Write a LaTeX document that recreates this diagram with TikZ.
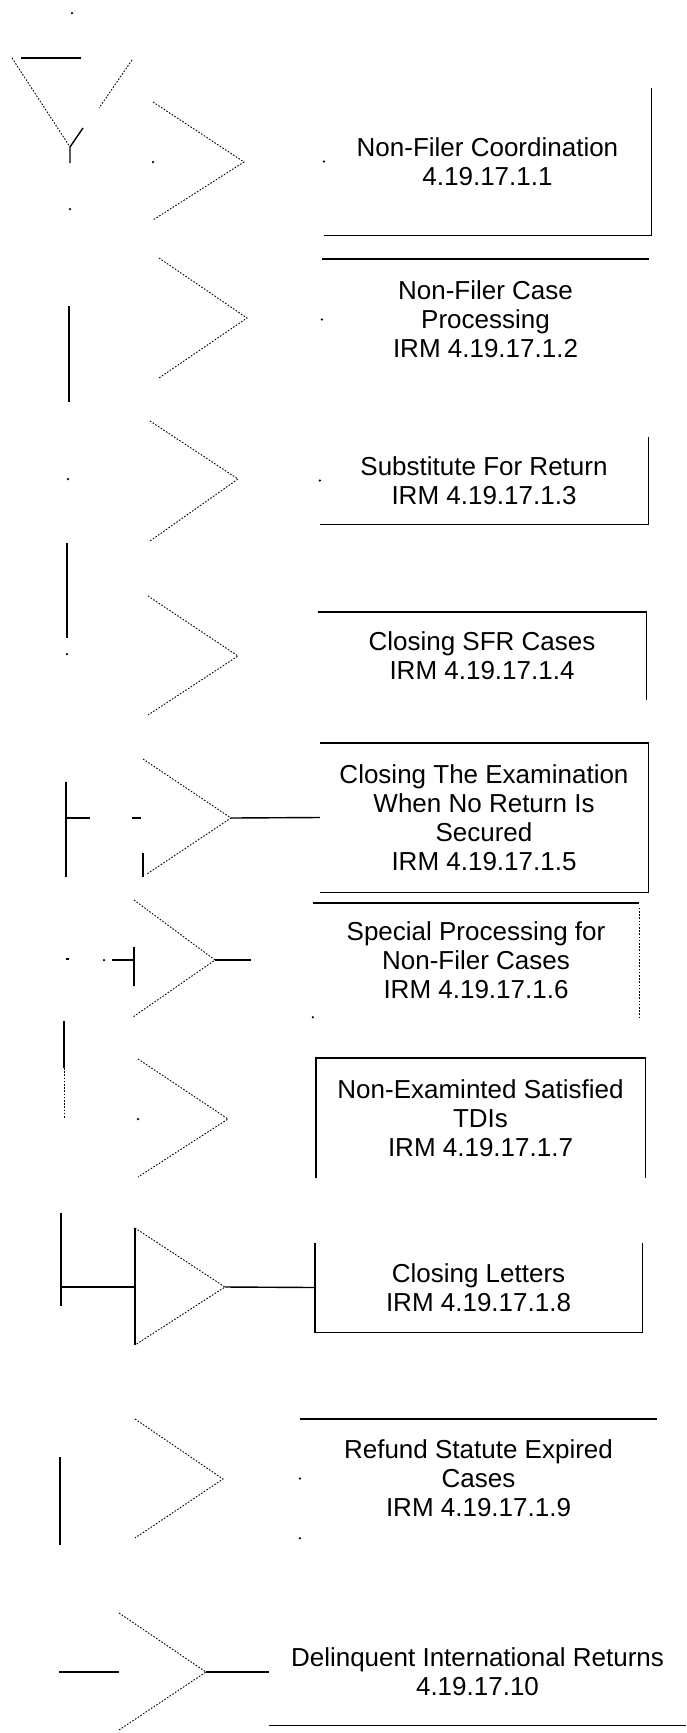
\documentclass[tikz,border=0pt]{standalone}
\usepackage{fontspec}
\setmainfont{Liberation Sans}
\usetikzlibrary{calc, positioning}

\tikzset{
  item/.style={inner sep=0pt, align=center, font=\fontsize{26}{29}\selectfont},
  rule/.style={line width=1.4pt},
  chev/.style={line width=0.9pt, dash pattern=on 1.6pt off 1.6pt},
  speck/.style={fill, circle, inner sep=0pt, minimum size=2.5pt}
}

\begin{document}
\begin{tikzpicture}[x=1pt, y=-1pt]
  \useasboundingbox (0,0) rectangle (686,1733);

  % top marker
  \node[speck] (topdot) at (72,13) {};
  \draw[rule] (21,58) -- (81,58);
  \draw[chev] (12,58) -- (70,147);
  \draw[chev] (132,60) -- (99,108);
  \draw[rule] (83,128) -- (70,147) -- (70,163);
  \node[speck] (trunkdot) at (70,209) {};

  % text boxes
  \node[item, minimum width=327pt, minimum height=147pt] (coord) at (487.5,161.5)
    {Non-Filer Coordination\\4.19.17.1.1};
  \node[item, minimum width=327pt, minimum height=121pt] (casep) at (485.5,319.5)
    {Non-Filer Case\\Processing\\IRM 4.19.17.1.2};
  \node[item, minimum width=328pt, minimum height=87pt] (sfr) at (484,480.5)
    {Substitute For Return\\IRM 4.19.17.1.3};
  \node[item, minimum width=328pt, minimum height=88pt] (closesfr) at (482,656)
    {Closing SFR Cases\\IRM 4.19.17.1.4};
  \node[item, minimum width=328pt, minimum height=149pt] (closeexam) at (484,817.5)
    {Closing The Examination\\When No Return Is\\Secured\\IRM 4.19.17.1.5};
  \node[item, minimum width=326pt, minimum height=114pt] (special) at (476,960)
    {Special Processing for\\Non-Filer Cases\\IRM 4.19.17.1.6};
  \node[item, minimum width=329pt, minimum height=120pt] (tdis) at (480.5,1118)
    {Non-Examinted Satisfied\\TDIs\\IRM 4.19.17.1.7};
  \node[item, minimum width=327pt, minimum height=89pt] (letters) at (478.5,1287.5)
    {Closing Letters\\IRM 4.19.17.1.8};
  \node[item, minimum width=357pt, minimum height=119pt] (refund) at (478.5,1478.5)
    {Refund Statute Expired\\Cases\\IRM 4.19.17.1.9};
  \node[item, minimum width=417pt, minimum height=106pt] (intl) at (477.5,1672)
    {Delinquent International Returns\\4.19.17.10};

  % what is left of the frames
  \draw[rule] (coord.south west) -- (coord.south east) -- (coord.north east);
  \node[speck] at (coord.west) {};
  \draw[rule] (casep.north west) -- (casep.north east);
  \node[speck] at (casep.west) {};
  \draw[rule] (sfr.north east) -- (sfr.south east) -- (sfr.south west);
  \node[speck] at (sfr.west) {};
  \draw[rule] (closesfr.north west) -- (closesfr.north east) -- (closesfr.south east);
  \draw[rule] (closeexam.north west) -- (closeexam.north east)
    -- (closeexam.south east) -- (closeexam.south west);
  \draw[rule] (special.north west) -- (special.north east);
  \draw[chev] ($(special.north east)+(0,5)$) -- (special.south east);
  \node[speck] at (special.south west) {};
  \draw[rule] (tdis.south west) -- (tdis.north west) -- (tdis.north east) -- (tdis.south east);
  \draw[rule] (letters.north west) -- (letters.south west)
    -- (letters.south east) -- (letters.north east);
  \draw[rule] (refund.north west) -- (refund.north east);
  \node[speck] at (refund.west) {};
  \node[speck] at (refund.south west) {};
  \draw[rule] (intl.south west) -- (intl.south east);

  % chevrons
  \coordinate (tip1) at (244,162);
  \coordinate (tip2) at (247,318);
  \coordinate (tip3) at (238,479);
  \coordinate (tip4) at (238,656);
  \coordinate (tip5) at (231,818);
  \coordinate (tip6) at (215,960);
  \coordinate (tip7) at (228,1119);
  \coordinate (tip8) at (225,1287);
  \coordinate (tip9) at (223,1479);
  \coordinate (tip10) at (206,1672);
  \draw[chev] (153,102) -- (tip1) -- (153,220);
  \node[speck] at (153,162) {};
  \draw[chev] (159,258) -- (tip2) -- (159,378);
  \draw[chev] (150,421) -- (tip3) -- (150,541);
  \draw[chev] (148,596) -- (tip4) -- (148,715);
  \draw[chev] (143,759) -- (tip5) -- (147,874);
  \draw[chev] (134,900) -- (tip6) -- (133,1017);
  \draw[chev] (138,1059) -- (tip7) -- (138,1177);
  \node[speck] at (138,1119) {};
  \draw[chev] (135,1228) -- (tip8) -- (135,1345);
  \draw[rule] (135,1228) -- (135,1345);
  \draw[chev] (135,1419) -- (tip9) -- (135,1538);
  \draw[chev] (119,1613) -- (tip10) -- (119,1730);

  % connectors to the boxes
  \draw[rule] (tip5) -- (closeexam.west);
  \coordinate (end6) at (251,960);
  \draw[rule] (tip6) -- (end6);
  \draw[rule] (tip8) -- (letters.west);
  \draw[rule] (tip10) -- (intl.west);

  % trunk pieces
  \node[speck] at (68,479) {};
  \draw[rule] (69,306) -- (69,402);
  \draw[rule] (67,543) -- (67,638);
  \node[speck] at (67,654) {};
  \draw[rule] (66,782) -- (66,877);
  \draw[rule] (66,818) -- (90,818);
  \draw[rule] (132,818) -- (141,818);
  \draw[rule] (143,853) -- (143,877);
  \draw[rule] (66,959) -- (69,959);
  \node[speck] at (104,960) {};
  \draw[rule] (112,960) -- (134,960);
  \draw[rule] (134,947) -- (134,986);
  \draw[rule] (64,1021) -- (64,1068);
  \draw[chev] (64,1068) -- (64,1119);
  \draw[rule] (61,1213) -- (61,1306);
  \draw[rule] (61,1287) -- (135,1287);
  \draw[rule] (60,1457) -- (60,1545);
  \draw[rule] (59,1672) -- (119,1672);
\end{tikzpicture}
\end{document}
